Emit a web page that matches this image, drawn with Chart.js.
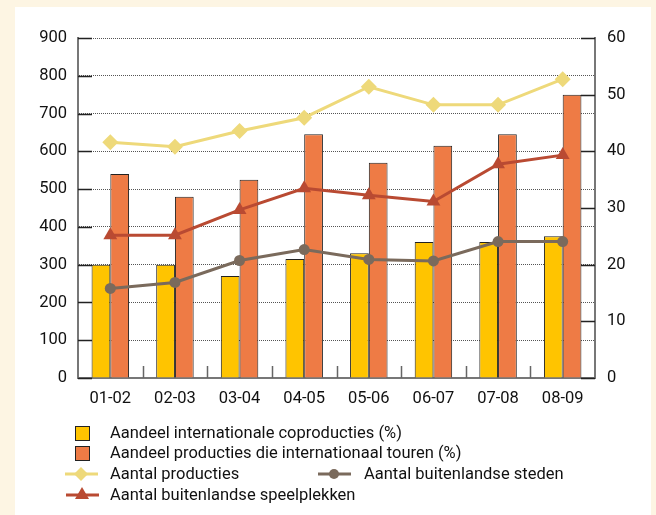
<!DOCTYPE html>
<html lang="nl">
<head>
  <meta charset="UTF-8">
  <title>Internationale producties</title>
  <script src="https://cdn.jsdelivr.net/npm/chart.js"></script>
  <style>
    html, body {
      margin: 0;
      padding: 0;
      background: #fdf5e3;
      font-family: Roboto, sans-serif;
    }
    #wrap {
      position: relative;
      width: 656px;
      height: 515px;
      overflow: hidden;
    }
    #panel {
      position: absolute;
      left: 15px;
      top: 7px;
      width: 636px;
      height: 508px;
      background: #fff;
    }
    #chart {
      position: absolute;
      left: 0;
      top: 0;
    }
    .leg {
      position: absolute;
      font-size: 16.5px;
      color: #111;
      line-height: 20px;
      white-space: nowrap;
    }
  </style>
</head>
<body>
<div id="wrap">
  <div id="panel"></div>
  <canvas id="chart" width="656" height="515"></canvas>

  <!-- legend -->
  <svg style="position:absolute;left:0;top:0" width="656" height="515">
    <rect x="75.5" y="426.5" width="14" height="14" fill="#ffc400" stroke="#222" stroke-width="1"/>
    <rect x="75.5" y="446.5" width="14" height="14" fill="#ee7b45" stroke="#222" stroke-width="1"/>
    <line x1="65" y1="474" x2="98" y2="474" stroke="#eed97a" stroke-width="3"/>
    <polygon points="81,467 88,474 81,481 74,474" fill="#eed97a"/>
    <line x1="66" y1="495" x2="99" y2="495" stroke="#b94a32" stroke-width="3"/>
    <polygon points="82,487 89,499 75,499" fill="#b94a32"/>
    <line x1="318" y1="474" x2="351" y2="474" stroke="#7a6a5c" stroke-width="3"/>
    <circle cx="334" cy="474" r="5" fill="#7a6a5c"/>
  </svg>
  <div class="leg" style="left:110px;top:423px">Aandeel internationale coproducties (%)</div>
  <div class="leg" style="left:110px;top:443px">Aandeel producties die internationaal touren (%)</div>
  <div class="leg" style="left:110px;top:464px">Aantal producties</div>
  <div class="leg" style="left:364px;top:464px">Aantal buitenlandse steden</div>
  <div class="leg" style="left:110px;top:485px">Aantal buitenlandse speelplekken</div>
</div>

<script>
  // seizoenen
  const seasons = ["01-02", "02-03", "03-04", "04-05", "05-06", "06-07", "07-08", "08-09"];

  // percentages (rechter as)
  const coproductiesPct = [20, 20, 18, 21, 22, 24, 24, 25];
  const tourenPct = [36, 32, 35, 43, 38, 41, 43, 50];

  // aantallen (linker as)
  const aantalProducties = [624, 612, 654, 689, 771, 723, 723, 791];
  const aantalSpeelplekken = [378, 378, 445, 502, 484, 467, 566, 590];
  const aantalSteden = [237, 253, 311, 340, 314, 310, 361, 361];

  // as-labels
  const leftTicks = [0, 100, 200, 300, 400, 500, 600, 700, 800, 900];
  const rightTicks = [0, 10, 20, 30, 40, 50, 60];

  Chart.defaults.font.family = 'Roboto, sans-serif';
  Chart.defaults.font.size = 16.5;
  Chart.defaults.color = "#111";

  // tick marks pointing into the plot, like the original
  const inwardTicks = {
    id: "inwardTicks",
    beforeDatasetsDraw(chart) {
      const { ctx, chartArea, scales } = chart;
      ctx.save();
      ctx.strokeStyle = "#222";
      ctx.lineWidth = 1.5;
      ctx.beginPath();
      leftTicks.forEach(v => {
        const y = Math.round(scales.y.getPixelForValue(v)) + 0.5;
        ctx.moveTo(chartArea.left, y);
        ctx.lineTo(chartArea.left + 14, y);
      });
      rightTicks.forEach(v => {
        const y = Math.round(scales.y2.getPixelForValue(v)) + 0.5;
        ctx.moveTo(chartArea.right - 14, y);
        ctx.lineTo(chartArea.right, y);
      });
      ctx.stroke();
      ctx.strokeStyle = "#666";
      ctx.beginPath();
      for (let i = 1; i < seasons.length; i++) {
        const x = Math.round((scales.x.getPixelForValue(i - 1) + scales.x.getPixelForValue(i)) / 2) + 0.5;
        ctx.moveTo(x, chartArea.bottom);
        ctx.lineTo(x, chartArea.bottom - 12);
      }
      ctx.stroke();
      ctx.restore();
    }
  };

  new Chart(document.getElementById("chart"), {
    data: {
      labels: seasons,
      datasets: [
        {
          type: "line",
          label: "Aantal producties",
          data: aantalProducties,
          yAxisID: "y",
          borderColor: "#eed97a",
          backgroundColor: "#eed97a",
          borderWidth: 3,
          pointStyle: "rectRot",
          pointRadius: 8,
          pointBorderWidth: 0,
          order: 0
        },
        {
          type: "line",
          label: "Aantal buitenlandse speelplekken",
          data: aantalSpeelplekken,
          yAxisID: "y",
          borderColor: "#b94a32",
          backgroundColor: "#b94a32",
          borderWidth: 3,
          pointStyle: "triangle",
          pointRadius: 8,
          pointBorderWidth: 0,
          order: 0
        },
        {
          type: "line",
          label: "Aantal buitenlandse steden",
          data: aantalSteden,
          yAxisID: "y",
          borderColor: "#7a6a5c",
          backgroundColor: "#7a6a5c",
          borderWidth: 3,
          pointStyle: "circle",
          pointRadius: 5.5,
          pointBorderWidth: 0,
          order: 0
        },
        {
          type: "bar",
          label: "Aandeel internationale coproducties (%)",
          data: coproductiesPct,
          yAxisID: "y2",
          backgroundColor: "#ffc400",
          borderColor: "#222",
          borderWidth: 1,
          order: 1
        },
        {
          type: "bar",
          label: "Aandeel producties die internationaal touren (%)",
          data: tourenPct,
          yAxisID: "y2",
          backgroundColor: "#ee7b45",
          borderColor: "#222",
          borderWidth: 1,
          order: 1
        }
      ]
    },
    options: {
      responsive: false,
      animation: false,
      layout: { padding: { top: 38, left: 0, right: 0, bottom: 0 } },
      datasets: {
        bar: { categoryPercentage: 0.58, barPercentage: 1 }
      },
      plugins: {
        legend: { display: false },
        tooltip: { enabled: false }
      },
      scales: {
        x: {
          offset: true,
          grid: { display: true, drawOnChartArea: false, drawTicks: false },
          border: { display: true, color: "#777", width: 2 },
          ticks: { padding: 11 },
          afterFit: s => { s.height = 137; }
        },
        y: {
          position: "left",
          min: 0,
          max: 900,
          ticks: { stepSize: 100, padding: 11 },
          grid: { color: "#555", lineWidth: 1, drawTicks: false },
          border: { display: true, color: "#777", width: 2, dash: [1, 1] },
          afterFit: s => { s.width = 78; }
        },
        y2: {
          position: "right",
          min: 0,
          max: 60,
          ticks: { stepSize: 10, padding: 12 },
          grid: { drawOnChartArea: false, drawTicks: false },
          border: { display: true, color: "#777", width: 2 },
          afterFit: s => { s.width = 61; }
        }
      }
    },
    plugins: [inwardTicks]
  });
</script>
</body>
</html>
